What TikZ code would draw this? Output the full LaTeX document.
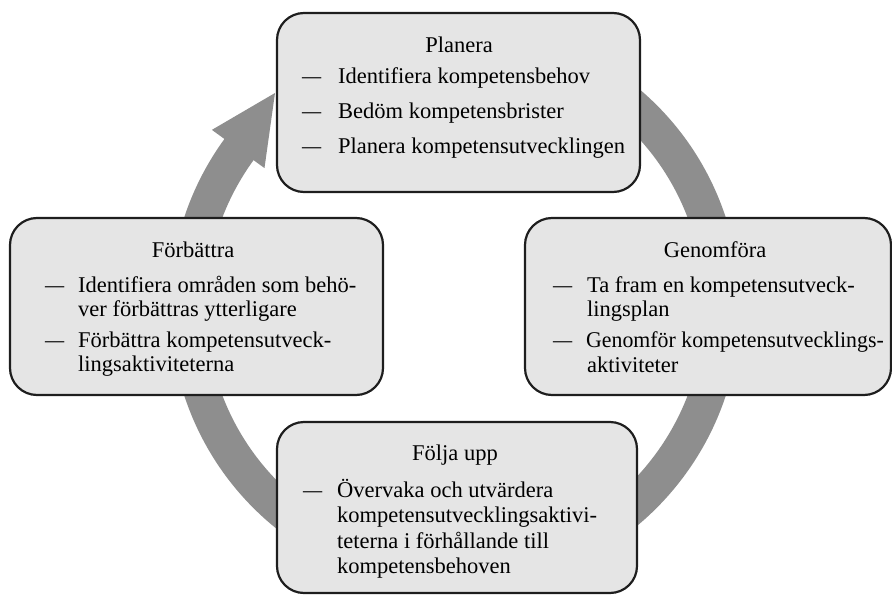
\documentclass[tikz,border=0pt]{standalone}
\usepackage{fontspec}
\setmainfont{Liberation Serif}
\usepackage{graphicx}
\usetikzlibrary{calc}
\definecolor{ringgray}{RGB}{142,142,142}
\definecolor{boxfill}{RGB}{229,229,229}
\definecolor{boxline}{RGB}{30,30,30}
\newcommand{\cyclefont}{\fontsize{22.5}{26}\selectfont}
\begin{document}
\begin{tikzpicture}[x=1pt,y=-1pt,
  box/.style={draw=boxline, fill=boxfill, line width=2.2pt, rounded corners=27pt, inner sep=0pt},
  boxtitle/.style={anchor=base, inner sep=0pt, font=\cyclefont},
  itemtext/.style={anchor=base west, inner sep=0pt, font=\cyclefont},
  dashmark/.style={anchor=base west, inner sep=0pt, font=\cyclefont}]
\useasboundingbox (0,0) rectangle (892,597);
% cycle arrow
\coordinate (c) at (455,306.5);
\coordinate (tip) at (275,93);
\draw[ringgray, line width=36pt] (c) ++(-143:267) arc[start angle=-143, end angle=-450, radius=267];
\fill[ringgray] ($(c)+(-144:300.5)$) -- (tip) -- ($(c)+(-144:235.5)$) -- cycle;
% boxes
\node[box, minimum width=363pt, minimum height=179pt] (plan) at (458.5,102.5) {};
\node[box, minimum width=373pt, minimum height=177pt] (forb) at (196.5,306.5) {};
\node[box, minimum width=366pt, minimum height=177pt] (genom) at (708,306.5) {};
\node[box, minimum width=360pt, minimum height=171pt] (folj) at (457,507.5) {};
% Planera
\node[boxtitle] (plan-t) at (459,52) {Planera};
\node[dashmark] (plan-d1) at (302,83) {\scalebox{0.85}[1]{—}};
\node[itemtext] (plan-1) at (338,83) {Identifiera kompetensbehov};
\node[dashmark] (plan-d2) at (302,118) {\scalebox{0.85}[1]{—}};
\node[itemtext] (plan-2) at (338,118) {Bedöm kompetensbrister};
\node[dashmark] (plan-d3) at (302,153) {\scalebox{0.85}[1]{—}};
\node[itemtext] (plan-3) at (338,153) {Planera kompetensutvecklingen};
% Förbättra
\node[boxtitle] (forb-t) at (193,257) {Förbättra};
\node[dashmark] (forb-d1) at (45,292) {\scalebox{0.85}[1]{—}};
\node[itemtext] (forb-1a) at (78,292) {Identifiera områden som behö-};
\node[itemtext] (forb-1b) at (78,316.5) {ver förbättras ytterligare};
\node[dashmark] (forb-d2) at (45,347) {\scalebox{0.85}[1]{—}};
\node[itemtext] (forb-2a) at (78,347) {Förbättra kompetensutveck-};
\node[itemtext] (forb-2b) at (78,371) {lingsaktiviteterna};
% Genomföra
\node[boxtitle] (genom-t) at (715,257) {Genomföra};
\node[dashmark] (genom-d1) at (553,292) {\scalebox{0.85}[1]{—}};
\node[itemtext] (genom-1a) at (587,292) {Ta fram en kompetensutveck-};
\node[itemtext] (genom-1b) at (587,316.5) {lingsplan};
\node[dashmark] (genom-d2) at (553,347) {\scalebox{0.85}[1]{—}};
\node[itemtext] (genom-2a) at (586,347) {\scalebox{0.97}[1]{Genomför kompetensutvecklings-}};
\node[itemtext] (genom-2b) at (587,372) {aktiviteter};
% Följa upp
\node[boxtitle] (folj-t) at (455,460) {Följa upp};
\node[dashmark] (folj-d1) at (303,497) {\scalebox{0.85}[1]{—}};
\node[itemtext] (folj-1a) at (337,497) {Övervaka och utvärdera};
\node[itemtext] (folj-1b) at (337,522) {kompetensutvecklingsaktivi-};
\node[itemtext] (folj-1c) at (337,548) {teterna i förhållande till};
\node[itemtext] (folj-1d) at (337,573) {kompetensbehoven};
\end{tikzpicture}
\end{document}
